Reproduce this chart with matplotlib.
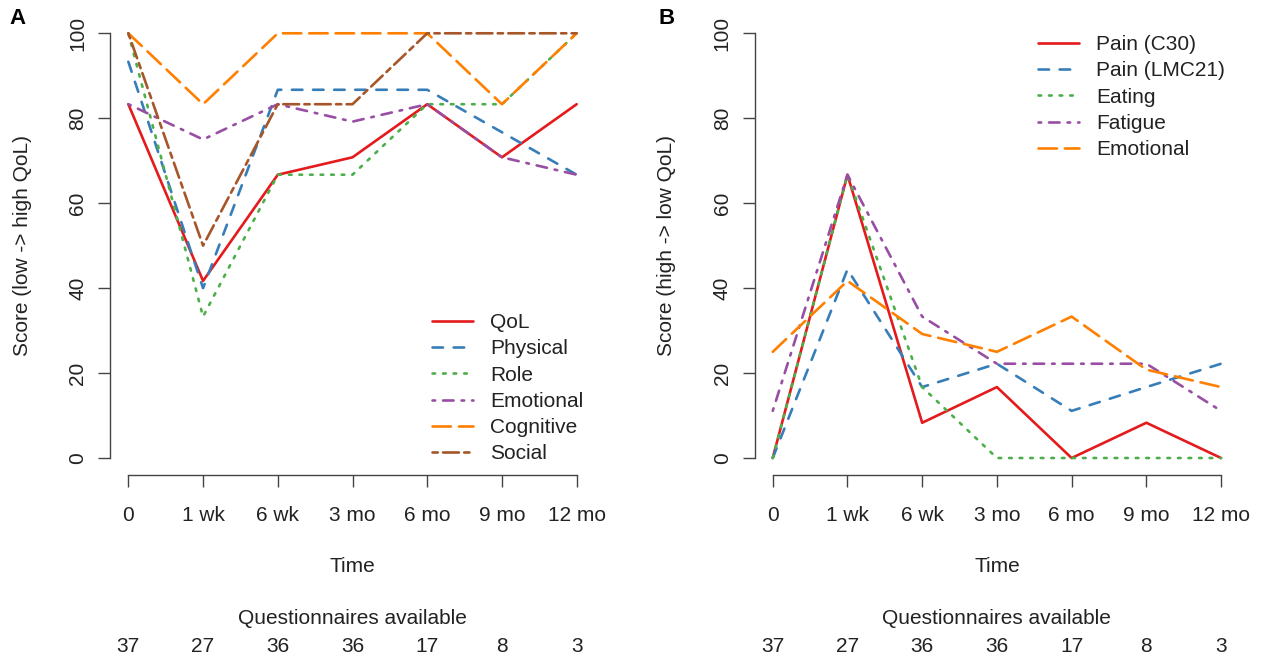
import numpy as np
import matplotlib
matplotlib.use('Agg')
import matplotlib.pyplot as plt
from matplotlib.transforms import blended_transform_factory

plt.rcParams['font.family'] = ['Liberation Sans', 'DejaVu Sans']

time_labels = ['0', '1 wk', '6 wk', '3 mo', '6 mo', '9 mo', '12 mo']
n_available = [37, 27, 36, 36, 17, 8, 3]

# panel A: functioning scales (high = good)
names_a = ['QoL', 'Physical', 'Role', 'Emotional', 'Cognitive', 'Social']
qol       = [83.3, 41.7, 66.7, 70.8, 83.3, 70.8, 83.3]
physical  = [93.3, 40.0, 86.7, 86.7, 86.7, 76.7, 66.7]
role      = [100, 33.3, 66.7, 66.7, 83.3, 83.3, 100]
emotional = [83.3, 75.0, 83.3, 79.2, 83.3, 70.8, 66.7]
cognitive = [100, 83.3, 100, 100, 100, 83.3, 100]
social    = [100, 50.0, 83.3, 83.3, 100, 100, 100]
series_a = [qol, physical, role, emotional, cognitive, social]

# panel B: symptom scales (high = bad)
names_b = ['Pain (C30)', 'Pain (LMC21)', 'Eating', 'Fatigue', 'Emotional']
pain_c30   = [0, 66.7, 8.3, 16.7, 0, 8.3, 0]
pain_lmc21 = [0, 44.4, 16.7, 22.2, 11.1, 16.7, 22.2]
eating     = [0, 66.7, 16.7, 0, 0, 0, 0]
fatigue    = [11.1, 66.7, 33.3, 22.2, 22.2, 22.2, 11.1]
emotional_b = [25.0, 41.7, 29.2, 25.0, 33.3, 20.8, 16.7]
series_b = [pain_c30, pain_lmc21, eating, fatigue, emotional_b]

cols = ['#E41A1C', '#377EB8', '#4DAF4A', '#984EA3', '#FF7F00', '#A65628']
# R lty 1..6
ltys = [None, (4, 4), (1, 3), (1, 3, 4, 3), (7, 3), (2, 2, 6, 2)]

W, H = 1263, 662
fig = plt.figure(figsize=(W/100, H/100), dpi=100)
axc = '#444444'
txtc = '#222222'
lw = 1.9
fs = 15

def px2fig(x, y):
    return x / W, 1 - y / H

def make_panel(left_px, series, names, ylab, letter, leg_xy):
    l, b = px2fig(left_px, 475)
    ax = fig.add_axes([l, b, 484.2 / W, (475 - 16.3) / H])
    x = np.arange(len(time_labels))
    for i, s in enumerate(series):
        line, = ax.plot(x, s, color=cols[i], lw=lw, label=names[i],
                        solid_capstyle='round', dash_capstyle='round')
        if ltys[i] is not None:
            line.set_dashes(ltys[i])
    ax.set_xlim(-0.24, 6.24)
    ax.set_ylim(-4, 104)
    for sp in ['top', 'right']:
        ax.spines[sp].set_visible(False)
    for sp in ['left', 'bottom']:
        ax.spines[sp].set_color(axc)
        ax.spines[sp].set_linewidth(1.0)
    ax.spines['left'].set_bounds(0, 100)
    ax.spines['bottom'].set_bounds(0, 6)
    ax.set_xticks(x)
    ax.set_xticklabels(time_labels)
    ax.set_yticks([0, 20, 40, 60, 80, 100])
    ax.set_yticklabels(['0', '20', '40', '60', '80', '100'], rotation=90, va='center')
    ax.tick_params(axis='both', direction='out', length=8.6, width=1.0,
                   color=axc, labelsize=fs, labelcolor=txtc)
    ax.tick_params(axis='x', pad=14)
    ax.tick_params(axis='y', pad=8)
    ax.set_ylabel(ylab, fontsize=fs, color=txtc)
    ax.yaxis.set_label_coords(-0.162, 0.5)
    cx = (left_px + 484.2 / 2) / W
    fig.text(cx, 1 - 567 / H, 'Time', ha='center', va='center', fontsize=fs, color=txtc)
    fig.text(cx, 1 - 618 / H, 'Questionnaires available', ha='center', va='center',
             fontsize=fs, color=txtc)
    tr = blended_transform_factory(ax.transData, fig.transFigure)
    for xi, n in zip(x, n_available):
        ax.text(xi, 1 - 647 / H, str(n), transform=tr, ha='center', va='center',
                fontsize=fs, color=txtc)
    lx, ly = leg_xy
    ax.legend(loc='upper left', bbox_to_anchor=px2fig(lx, ly), bbox_transform=fig.transFigure,
              frameon=False, fontsize=fs, handlelength=1.95, handletextpad=0.85,
              labelspacing=0.35, borderpad=0, borderaxespad=0, labelcolor=txtc)
    fig.text(*px2fig(letter[1], 19), letter[0], ha='center', va='center',
             fontsize=16, fontweight='bold', color='black')
    return ax

make_panel(110.4, series_a, names_a, 'Score (low -> high QoL)', ('A', 18), (432, 313))
make_panel(754.8, series_b, names_b, 'Score (high -> low QoL)', ('B', 667), (1038, 35))

fig.savefig('out.png', dpi=100)
